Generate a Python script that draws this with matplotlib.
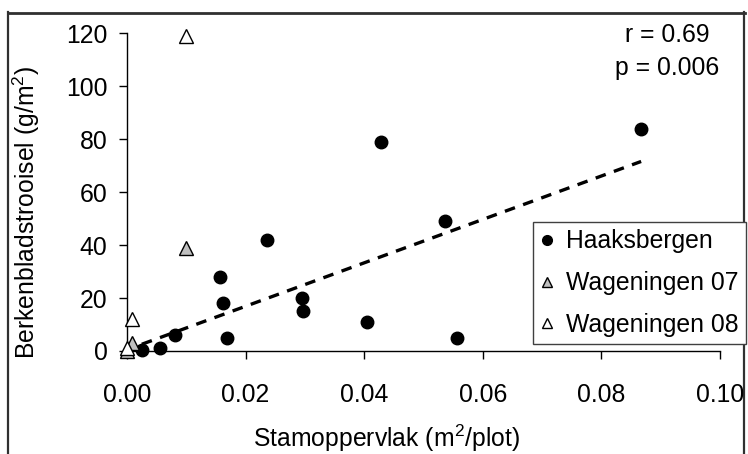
import matplotlib.pyplot as plt
from matplotlib.lines import Line2D

plt.rcParams["font.family"] = ["Liberation Sans", "DejaVu Sans"]
plt.rcParams["mathtext.fontset"] = "custom"
plt.rcParams["mathtext.rm"] = "Liberation Sans"

# Haaksbergen
haaks_x = [0.0025, 0.0055, 0.0081, 0.0157, 0.0162, 0.0168, 0.0236, 0.0295,
           0.0297, 0.0404, 0.0428, 0.0537, 0.0557, 0.0867]
haaks_y = [0.3, 1, 6, 28, 18, 5, 42, 20, 15, 11, 79, 49, 5, 84]

# Wageningen 07 / 08
wag07_x = [0.0, 0.0009, 0.0100]
wag07_y = [0.0, 3, 39]
wag08_x = [0.0, 0.0009, 0.0100]
wag08_y = [1, 12, 119]

# trendline (linear fit, Haaksbergen)
trend_slope = 820
trend_intercept = 0.5

xticks = [0.00, 0.02, 0.04, 0.06, 0.08, 0.10]
yticks = [0, 20, 40, 60, 80, 100, 120]

FS = 17.8
W, H = 748, 454

fig = plt.figure(figsize=(W / 100, H / 100), dpi=100)

# overlay in pixel coordinates for the outer chart border (open at bottom)
bg = fig.add_axes([0, 0, 1, 1], zorder=-1)
bg.set_xlim(0, W)
bg.set_ylim(H, 0)
bg.axis("off")
bg.axhline(13, xmin=8 / W, xmax=745 / W, color="#303030", lw=2)
bg.axvline(8.5, ymin=0, ymax=1 - 12 / H, color="#303030", lw=1.6)
bg.axvline(744.5, ymin=0, ymax=1 - 12 / H, color="#303030", lw=1.6)

ax = fig.add_axes([127 / W, 103 / H, 593 / W, 317.7 / H])
ax.patch.set_alpha(0)

tx = [min(haaks_x), max(haaks_x)]
ty = [trend_intercept + trend_slope * v for v in tx]
ax.plot(tx, ty, color="black", lw=2.4, dashes=(3.2, 2.6), zorder=2)

ax.plot(haaks_x, haaks_y, "o", ms=9, color="black", clip_on=False, zorder=3)
ax.plot(wag07_x, wag07_y, "^", ms=10, mfc="#c0c0c0", mec="black", mew=1,
        clip_on=False, zorder=4)
ax.plot(wag08_x, wag08_y, "^", ms=10, mfc="white", mec="black", mew=1,
        clip_on=False, zorder=5)

ax.set_xlim(0, 0.10)
ax.set_ylim(0, 120)
ax.set_xticks(xticks)
ax.set_xticklabels([f"{v:.2f}" for v in xticks])
ax.set_yticks(yticks)
for s in ["top", "right"]:
    ax.spines[s].set_visible(False)
for s in ["left", "bottom"]:
    ax.spines[s].set_linewidth(1)
ax.tick_params(axis="x", direction="out", length=6, width=1, pad=17, labelsize=FS)
ax.tick_params(axis="y", direction="out", length=6, width=1, pad=8, labelsize=FS)

ax.set_xlabel(r"Stamoppervlak (m$\mathregular{^2}$/plot)", fontsize=FS)
ax.xaxis.set_label_coords(0.437, -0.225)
ax.set_ylabel(r"Berkenbladstrooisel (g/m$\mathregular{^2}$)", fontsize=FS)
ax.yaxis.set_label_coords(-0.143, 0.4375)

fig.text(667 / W, 1 - 35 / H, "r = 0.69", ha="center", va="center", fontsize=FS)
fig.text(667 / W, 1 - 68 / H, "p = 0.006", ha="center", va="center", fontsize=FS)

handles = [
    Line2D([], [], ls="none", marker="o", ms=7, color="black"),
    Line2D([], [], ls="none", marker="^", ms=7, mfc="#c0c0c0", mec="black", mew=1),
    Line2D([], [], ls="none", marker="^", ms=7, mfc="white", mec="black", mew=1),
]
leg = fig.legend(handles, ["Haaksbergen", "Wageningen 07", "Wageningen 08"],
                 loc="upper right", bbox_to_anchor=(746 / W, 1 - 222 / H),
                 fontsize=FS, frameon=True, fancybox=False, framealpha=1,
                 edgecolor="#404040", handlelength=0.6, handletextpad=0.45,
                 borderpad=0.3, labelspacing=0.72, borderaxespad=0)
leg.get_frame().set_linewidth(1)

fig.savefig("out.png", dpi=100)
